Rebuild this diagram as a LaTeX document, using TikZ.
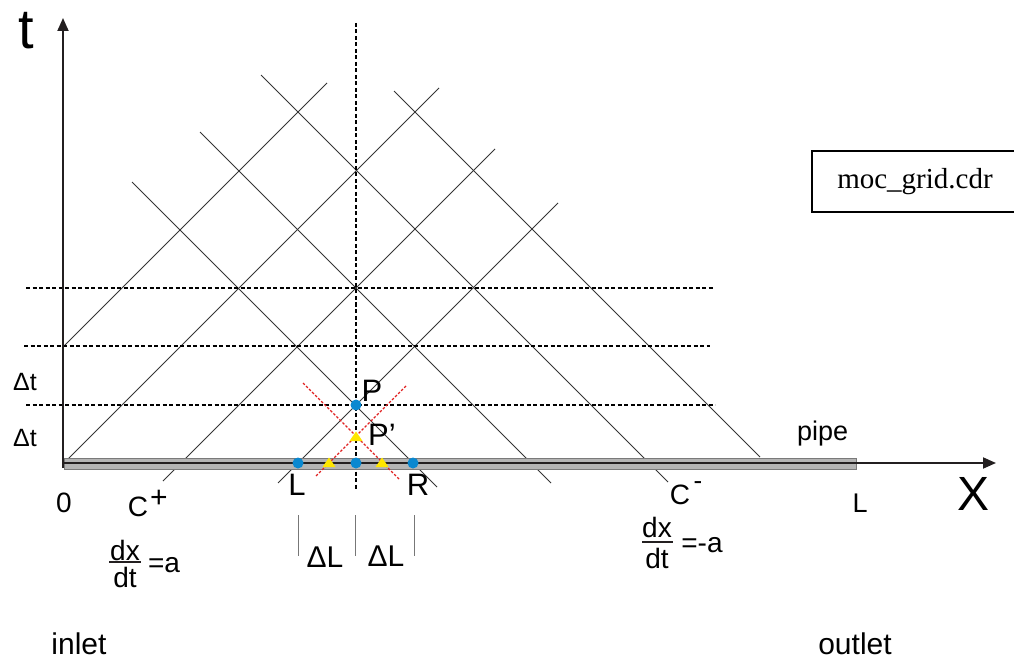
\documentclass[tikz,border=0pt]{standalone}
\usepackage{fontspec}
\setmainfont{Liberation Sans}
\newfontfamily\boxfont{Liberation Serif}
\usetikzlibrary{arrows.meta}
\definecolor{axisc}{HTML}{231F20}
\definecolor{charc}{HTML}{353535}
\definecolor{dotblue}{HTML}{0A88D0}
\definecolor{triyel}{HTML}{FFE600}
\definecolor{pipefill}{HTML}{B4B4B4}
\definecolor{pipeedge}{HTML}{7A7A7A}
\definecolor{redd}{HTML}{E02020}
\definecolor{tickc}{HTML}{777777}
\newcommand{\fsz}[1]{\fontsize{#1}{#1}\selectfont}
\begin{document}
\begin{tikzpicture}[x=1pt,y=-1pt,
  charline/.style={charc, line width=0.95pt},
  gridline/.style={black, line width=1.4pt, dash pattern=on 4pt off 2.5pt},
  redline/.style={redd, line width=1.3pt, dash pattern=on 2.5pt off 1.8pt},
  axisline/.style={axisc, line width=1.8pt, -{Triangle[length=13pt,width=11pt]}},
  lbl/.style={inner sep=0pt, outer sep=0pt},
  bluedot/.style={circle, fill=dotblue, minimum size=11pt, inner sep=0pt},
  tickbar/.style={tickc, line width=1pt},
  fracbar/.style={axisc, line width=2.6pt}]
\useasboundingbox (0,0) rectangle (1014,660);

% characteristic lines C+
\draw[charline] (64,346) -- (327,83);
\draw[charline] (64,463) -- (439,88);
\draw[charline] (163,481) -- (495,149);
\draw[charline] (278,483) -- (558,203);
% characteristic lines C-
\draw[charline] (132,182) -- (437,487);
\draw[charline] (200,132) -- (551,483);
\draw[charline] (261,75) -- (668,482);
\draw[charline] (394,91) -- (760,457);

% horizontal dashed time levels
\draw[gridline] (26,288) -- (713,288);
\draw[gridline] (24,346) -- (710,346);
\draw[gridline] (26,405) -- (715,405);
% vertical dashed line
\draw[gridline] (356,23) -- (356,490);

% pipe
\draw[pipeedge, fill=pipefill, line width=0.9pt] (64,458) rectangle (856,469);

% axes
\coordinate (O) at (64,463);
\coordinate (xend) at (996,463);
\coordinate (tbot) at (63,468);
\coordinate (tend) at (63,18);
\draw[axisline] (O) -- (xend);
\draw[axisline] (tbot) -- (tend);

% red dashed lines through P'
\draw[redline] (303,383) -- (400,480);
\draw[redline] (406,386) -- (315,477);

% points
\node[bluedot] (Ldot) at (298,463) {};
\node[bluedot] (Mdot) at (356,463) {};
\node[bluedot] (Rdot) at (413,463) {};
\node[bluedot] (Pdot) at (356,405) {};
\coordinate (T1) at (329,463);
\coordinate (T2) at (382,463);
\coordinate (Tp) at (356,437);
\fill[triyel] (T1) ++(-6.5,4) -- ++(13,0) -- ++(-6.5,-9.5) -- cycle;
\fill[triyel] (T2) ++(-6.5,4) -- ++(13,0) -- ++(-6.5,-9.5) -- cycle;
\fill[triyel] (Tp) ++(-6.5,4) -- ++(13,0) -- ++(-6.5,-9.5) -- cycle;

% labels
\node[lbl, font=\fsz{56}] (tlab) at (26,31) {t};
\node[lbl, font=\fsz{48}] (xlab) at (973,494) {X};
\node[lbl, font=\fsz{25}] (dt1) at (25,382) {Δt};
\node[lbl, font=\fsz{25}] (dt2) at (25,438) {Δt};
\node[lbl, font=\fsz{31}] (Plab) at (372,391) {P};
\node[lbl, font=\fsz{31}] (Pplab) at (382,435) {P’};
\node[lbl, font=\fsz{31}] (Llab) at (297,485) {L};
\node[lbl, font=\fsz{31}] (Rlab) at (418,485) {R};
\node[lbl, font=\fsz{28}] (zero) at (64,503) {0};
\node[lbl, font=\fsz{27}] (Lend) at (860,503) {L};
\node[lbl, font=\fsz{27}, anchor=base west] (pipe) at (797,440) {pipe};
\node[lbl, font=\fsz{30}] (inlet) at (79,644) {inlet};
\node[lbl, font=\fsz{30}] (outlet) at (855,644) {outlet};

% C+ and C-
\node[lbl, font=\fsz{28}] (Cp) at (138,507) {C};
\node[lbl, font=\fsz{30}] (Cpsup) at (159,499) {+};
\node[lbl, font=\fsz{28}] (Cm) at (680,495) {C};
\node[lbl, font=\fsz{26}] (Cmsup) at (698,486) {-};

% dx/dt = a
\node[lbl, font=\fsz{28}] (dxa) at (125,550) {dx};
\node[lbl, font=\fsz{28}] (dta) at (125,577) {dt};
\coordinate (fa1) at (109,562);
\coordinate (fa2) at (141,562);
\draw[fracbar] (fa1) -- (fa2);
\node[lbl, font=\fsz{28}] (eqa) at (164,565) {=a};
% dx/dt = -a
\node[lbl, font=\fsz{28}] (dxb) at (657,527) {dx};
\node[lbl, font=\fsz{28}] (dtb) at (657,558) {dt};
\coordinate (fb1) at (642,542);
\coordinate (fb2) at (673,542);
\draw[fracbar] (fb1) -- (fb2);
\node[lbl, font=\fsz{28}] (eqb) at (702,545) {=-a};

% Delta L markers
\coordinate (b1t) at (298,515); \coordinate (b1b) at (298,556);
\coordinate (b2t) at (355,515); \coordinate (b2b) at (355,556);
\coordinate (b3t) at (414,515); \coordinate (b3b) at (414,556);
\draw[tickbar] (b1t) -- (b1b);
\draw[tickbar] (b2t) -- (b2b);
\draw[tickbar] (b3t) -- (b3b);
\node[lbl, font=\fsz{30}] (dL1) at (325,557) {ΔL};
\node[lbl, font=\fsz{30}] (dL2) at (386,556) {ΔL};

% file name box
\node[draw, line width=1.1pt, minimum width=206pt, minimum height=61pt, inner sep=0pt,
      font=\boxfont\fsz{29}] (fbox) at (915,181.5) {moc\_grid.cdr};
\end{tikzpicture}
\end{document}
